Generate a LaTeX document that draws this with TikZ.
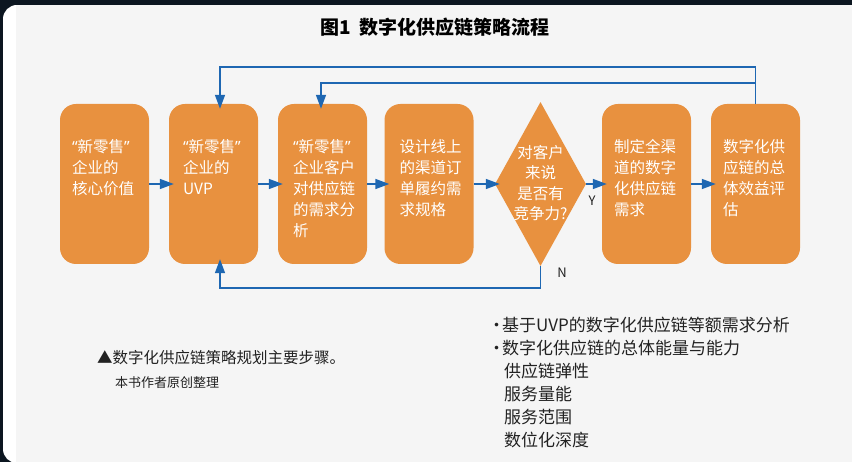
\documentclass[tikz,border=0pt]{standalone}
\usepackage{fontspec}
\setmainfont{Noto Sans CJK SC}
\newfontfamily\quotefont{Noto Sans}
\newcommand{\xls}{{\quotefont “}新零售{\quotefont ”}}
\usepackage{tikz}
\usetikzlibrary{arrows.meta,calc,shapes.geometric}
\definecolor{bgdark}{HTML}{0C1620}
\definecolor{panel}{HTML}{F5F5F5}
\definecolor{stepfill}{HTML}{E8913F}
\definecolor{flow}{HTML}{1E67B2}
\definecolor{ink}{HTML}{222222}

\begin{document}
\begin{tikzpicture}[x=1pt, y=-1pt,
	stepbox/.style = {fill=stepfill, rounded corners=16pt, minimum width=89pt, minimum height=160pt, inner sep=0pt},
	steptext/.style = {anchor=north west, inner sep=0pt, align=left, text=white, font=\fontsize{15.5}{21}\selectfont},
	flowline/.style = {draw=flow, line width=1.5pt},
	flowarrow/.style = {flowline, -{Triangle[length=14pt,width=10pt]}, shorten >=-5pt}]
	\useasboundingbox (0,0) rectangle (852,462);
	\fill[bgdark] (0,0) rectangle (852,462);
	\begin{scope}
		\clip[rounded corners=14pt] (3,5) rectangle (870,463);
		\fill[white] (3,5) rectangle (852,462);
		\fill[panel] (16,5) rectangle (852,462);
	\end{scope}
	\node[font=\bfseries\fontsize{19}{19}\selectfont] (Title) at (435,27) {图1\ \ 数字化供应链策略流程};
	\foreach \n/\x in {1/104.5, 2/213.5, 3/322.5, 4/429, 6/646.5, 7/755.5}
		\node[stepbox] (S\n) at (\x,184) {};
	\node[diamond, fill=stepfill, minimum width=91pt, minimum height=164pt, inner sep=0pt] (Q) at (540.5,184) {};
	\node[steptext] (S1t) at ($(S1.north west)+(12,35)$) {\xls\\企业的\\核心价值};
	\node[steptext] (S2t) at ($(S2.north west)+(14,35)$) {\xls\\企业的\\UVP};
	\node[steptext] (S3t) at ($(S3.north west)+(15,35)$) {\xls\\企业客户\\对供应链\\的需求分\\析};
	\node[steptext] (S4t) at ($(S4.north west)+(15,35)$) {设计线上\\的渠道订\\单履约需\\求规格};
	\node[steptext] (S6t) at ($(S6.north west)+(12,35)$) {制定全渠\\道的数字\\化供应链\\需求};
	\node[steptext, anchor=center, align=center, font=\fontsize{15.5}{20.5}\selectfont] (Qt) at (540.5,183) {对客户\\来说\\是否有\\竞争力?};
	\node[steptext] (S7t) at ($(S7.north west)+(12,35)$) {数字化供\\应链的总\\体效益评\\估};
	\foreach \a/\b in {S1/S2, S2/S3, S3/S4, S4/Q, Q/S6, S6/S7}
		\draw[flowarrow] (\a.east) -- (\a.east -| \b.west);
	\coordinate (J) at ($(S7.north)+(0,-21)$);
	\draw[flowarrow] (S7.north) -- ++(0,-37) -| ($(S2.north)+(6.5,0)$);
	\draw[flowarrow] (J) -| ($(S3.north)+(-1.5,0)$);
	\draw[flowarrow] (Q.south) -- ++(0,22) -| ($(S2.south)+(6.5,0)$);
	\node[text=ink, font=\fontsize{13}{13}\selectfont] (Y) at (592,201) {Y};
	\node[text=ink, font=\fontsize{13}{13}\selectfont] (N) at (562,273) {N};
	\node[anchor=west, inner sep=0pt, text=ink, font=\fontsize{15.5}{15.5}\selectfont] (Cap) at (97,358) {▲数字化供应链策略规划主要步骤。};
	\node[anchor=west, inner sep=0pt, text=ink, font=\fontsize{13}{13}\selectfont] (Src) at (115,383) {本书作者原创整理};
	\node[anchor=north west, inner sep=0pt, align=left, text=ink, font=\fontsize{17}{23}\selectfont] (List) at (488,317)
		{\makebox[14pt][l]{·}基于UVP的数字化供应链等额需求分析\\
		 \makebox[14pt][l]{·}数字化供应链的总体能量与能力\\
		 \hspace*{16pt}供应链弹性\\
		 \hspace*{16pt}服务量能\\
		 \hspace*{16pt}服务范围\\
		 \hspace*{16pt}数位化深度};
\end{tikzpicture}
\end{document}
